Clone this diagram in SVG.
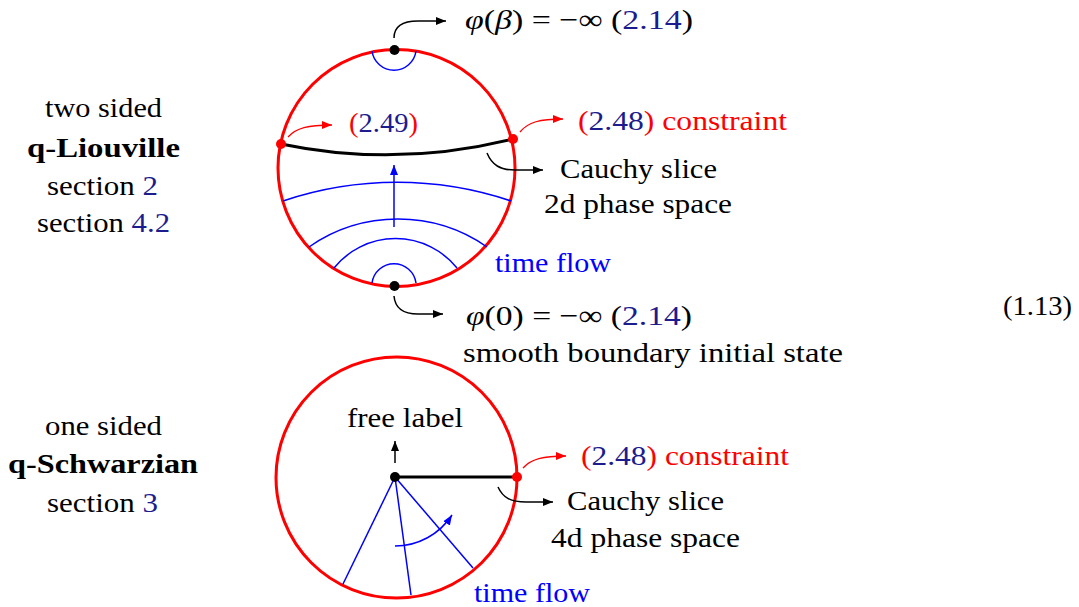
<svg xmlns="http://www.w3.org/2000/svg" width="1079" height="607" viewBox="0 0 1079 607">
<style>
text{font-family:"Liberation Serif","Times New Roman",serif;font-size:28px;fill:#000}
.b{font-weight:bold}
.nv{fill:#1c1c8e}
.rd{fill:#ff0000}
.bl{fill:#0000ff}
.it{font-style:italic}
.disk{fill:none;stroke:#ff0000;stroke-width:3}
.bline{fill:none;stroke:#0000ff;stroke-width:1.5}
.slice{fill:none;stroke:#000;stroke-width:3}
.ck{fill:none;stroke:#000;stroke-width:1.5}
.cr{fill:none;stroke:#ff0000;stroke-width:1.3}
.cb{fill:none;stroke:#0000ff;stroke-width:1.5}
</style>
<defs>
<marker id="ak" markerWidth="11" markerHeight="9" refX="10" refY="4" orient="auto" markerUnits="userSpaceOnUse"><path d="M0,0 L10,4 L0,8 z" fill="#000"/></marker>
<marker id="ar" markerWidth="11" markerHeight="9" refX="10" refY="4" orient="auto" markerUnits="userSpaceOnUse"><path d="M0,0 L10,4 L0,8 z" fill="#ff0000"/></marker>
<marker id="ab" markerWidth="11" markerHeight="9" refX="10" refY="4" orient="auto" markerUnits="userSpaceOnUse"><path d="M0,0 L10,4 L0,8 z" fill="#0000ff"/></marker>
</defs>
<rect width="1079" height="607" fill="#fff"/>

<g id="label-two-sided">
<text x="45" y="117" textLength="117" lengthAdjust="spacingAndGlyphs">two sided</text>
<text class="b" x="27" y="157" textLength="153" lengthAdjust="spacingAndGlyphs">q-Liouville</text>
<text x="47" y="195" textLength="111" lengthAdjust="spacingAndGlyphs">section <tspan class="nv">2</tspan></text>
<text x="37" y="232" textLength="133" lengthAdjust="spacingAndGlyphs">section <tspan class="nv">4.2</tspan></text>
</g>

<g id="label-one-sided">
<text x="45" y="435" textLength="117" lengthAdjust="spacingAndGlyphs">one sided</text>
<text class="b" x="8" y="473" textLength="190" lengthAdjust="spacingAndGlyphs">q-Schwarzian</text>
<text x="47" y="512" textLength="111" lengthAdjust="spacingAndGlyphs">section <tspan class="nv">3</tspan></text>
</g>

<g id="disk-two-sided">
<circle class="disk" cx="396.5" cy="168" r="118.5"/>
<path class="bline" d="M372,51 A22.2,22.2 0 0 0 416,51"/>
<path class="bline" d="M372,283 A22.2,22.2 0 0 1 416,283"/>
<path class="bline" d="M283,201 A357,357 0 0 1 511,201"/>
<path class="bline" d="M309,247 A156,156 0 0 1 487,247"/>
<path class="bline" d="M334,268 A79,79 0 0 1 457,268"/>
<path class="cb" d="M394,227 L394,165" marker-end="url(#ab)"/>
<path class="slice" d="M281,144 Q396,168 513,139"/>
<circle cx="281" cy="144" r="5" fill="#ff0000"/>
<circle cx="513" cy="139" r="5" fill="#ff0000"/>
<circle cx="394.5" cy="50" r="5" fill="#000"/>
<circle cx="394.5" cy="286" r="5" fill="#000"/>
</g>

<g id="disk-one-sided">
<circle class="disk" cx="396.5" cy="477.5" r="120.5"/>
<path class="bline" d="M395,477 L343,584"/>
<path class="bline" d="M395,477 L411,595"/>
<path class="bline" d="M395,477 L473,568"/>
<path class="cb" d="M395,546 A68,68 0 0 0 452,515" marker-end="url(#ab)"/>
<path class="ck" d="M395,463 L395,441" marker-end="url(#ak)"/>
<path class="slice" d="M395,477 L517,477"/>
<circle cx="517" cy="477" r="5" fill="#ff0000"/>
<circle cx="395" cy="477" r="5" fill="#000"/>
</g>

<g id="connectors">
<path class="ck" d="M394,38 C394,27 402,21 418,21 L446,21" marker-end="url(#ak)"/>
<path class="ck" d="M394,296 C395,308 403,314 418,314 L443,314" marker-end="url(#ak)"/>
<path class="cr" d="M288,137 C296,128 308,125 332,125" marker-end="url(#ar)"/>
<path class="cr" d="M520,132 C528,122 540,119 563,119" marker-end="url(#ar)"/>
<path class="ck" d="M487,153 C492,165 500,170 515,170 L543,170" marker-end="url(#ak)"/>
<path class="cr" d="M523,468 C531,459 543,456 566,456" marker-end="url(#ar)"/>
<path class="ck" d="M498,487 C503,498 511,502 526,502 L553,502" marker-end="url(#ak)"/>
</g>

<g id="label-phi-beta">
<text x="465" y="29" textLength="228" lengthAdjust="spacingAndGlyphs"><tspan class="it">φ</tspan>(<tspan class="it">β</tspan>) = −∞ (<tspan class="nv">2.14</tspan>)</text>
</g>
<g id="label-249">
<text x="349" y="132" textLength="69" lengthAdjust="spacingAndGlyphs"><tspan class="rd">(</tspan><tspan class="nv">2.49</tspan><tspan class="rd">)</tspan></text>
</g>
<g id="label-constraint-top">
<text x="578" y="130" textLength="209" lengthAdjust="spacingAndGlyphs"><tspan class="rd">(</tspan><tspan class="nv">2.48</tspan><tspan class="rd">) constraint</tspan></text>
</g>
<g id="label-cauchy-top">
<text x="560" y="178" textLength="157" lengthAdjust="spacingAndGlyphs">Cauchy slice</text>
<text x="544" y="213" textLength="188" lengthAdjust="spacingAndGlyphs">2d phase space</text>
</g>
<g id="label-timeflow-top">
<text class="bl" x="495" y="272" textLength="116" lengthAdjust="spacingAndGlyphs">time flow</text>
</g>
<g id="label-phi-zero">
<text x="466" y="325" textLength="226" lengthAdjust="spacingAndGlyphs"><tspan class="it">φ</tspan>(0) = −∞ (<tspan class="nv">2.14</tspan>)</text>
<text x="463" y="362" textLength="380" lengthAdjust="spacingAndGlyphs">smooth boundary initial state</text>
</g>
<g id="label-eqno">
<text x="1003" y="315" textLength="69" lengthAdjust="spacingAndGlyphs">(1.13)</text>
</g>
<g id="label-free">
<text x="347" y="427" textLength="116" lengthAdjust="spacingAndGlyphs">free label</text>
</g>
<g id="label-constraint-bottom">
<text x="581" y="465" textLength="208" lengthAdjust="spacingAndGlyphs"><tspan class="rd">(</tspan><tspan class="nv">2.48</tspan><tspan class="rd">) constraint</tspan></text>
</g>
<g id="label-cauchy-bottom">
<text x="567" y="510" textLength="157" lengthAdjust="spacingAndGlyphs">Cauchy slice</text>
<text x="551" y="547" textLength="189" lengthAdjust="spacingAndGlyphs">4d phase space</text>
</g>
<g id="label-timeflow-bottom">
<text class="bl" x="474" y="602" textLength="116" lengthAdjust="spacingAndGlyphs">time flow</text>
</g>
</svg>
